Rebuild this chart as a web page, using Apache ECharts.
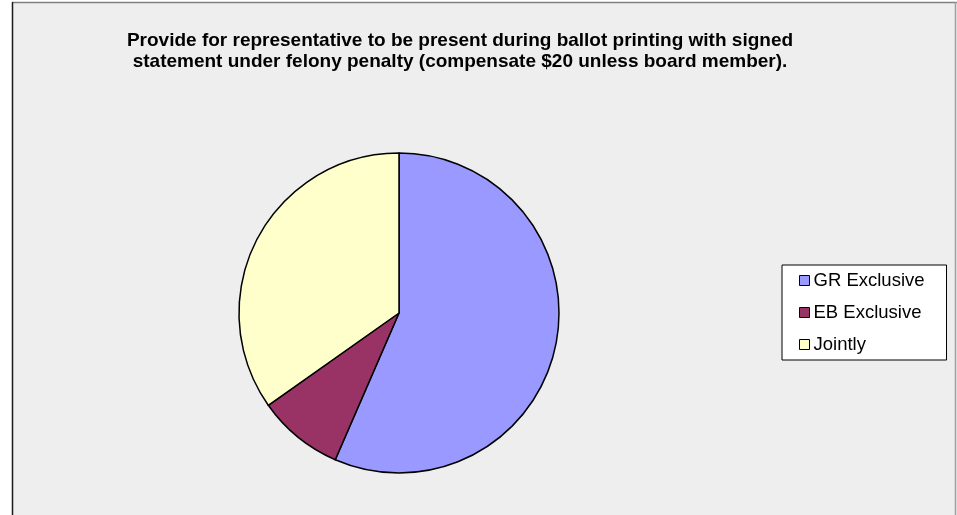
<!DOCTYPE html>
<html><head><meta charset="utf-8">
<script src="https://cdn.jsdelivr.net/npm/echarts@6/dist/echarts.min.js"></script>
<style>html,body{margin:0;padding:0;background:#fff}#c{width:957px;height:515px}</style>
</head><body><div id="c"></div>
<script>
const categories = ["GR Exclusive", "EB Exclusive", "Jointly"];
const values = [13, 2, 8];
const colors = ["#9999FF", "#993366", "#FFFFCC"];
const titleText = "Provide for representative to be present during ballot printing with signed\nstatement under felony penalty (compensate $20 unless board member).";

const chart = echarts.init(document.getElementById('c'));
chart.setOption({
  animation: false,
  graphic: [
    {type:'rect', z:-10, shape:{x:12, y:2, width:950, height:520}, style:{fill:'#eeeeee'}},
    {type:'line', z:-9, shape:{x1:12, y1:2.5, x2:957, y2:2.5}, style:{stroke:'#808080', lineWidth:1.5}},
    {type:'line', z:-9, shape:{x1:955.5, y1:2, x2:955.5, y2:515}, style:{stroke:'#a0a0a0', lineWidth:1.5}},
    {type:'line', z:-9, shape:{x1:12.5, y1:2, x2:12.5, y2:515}, style:{stroke:'#1a1a1a', lineWidth:1.5}}
  ],
  title: {
    text: titleText,
    left: 455, top: 25, textAlign: 'center',
    textStyle: {fontFamily:'Liberation Sans, Arial, sans-serif', fontSize:19, fontWeight:'bold', color:'#000', lineHeight:21}
  },
  legend: {
    orient: 'vertical',
    left: 782, top: 265,
    padding: [6, 22, 6, 17],
    itemGap: 13,
    itemWidth: 10, itemHeight: 10,
    icon: 'rect',
    backgroundColor: '#ffffff',
    borderColor: '#000000', borderWidth: 1,
    textStyle: {fontFamily:'Liberation Sans, Arial, sans-serif', fontSize:18.5, color:'#000', padding:[0,0,0,-1]},
    itemStyle: {borderColor:'#000', borderWidth:1},
    data: categories
  },
  series: [{
    type: 'pie',
    center: [399, 313],
    radius: 160,
    startAngle: 90,
    clockwise: true,
    label: {show:false},
    labelLine: {show:false},
    emphasis: {disabled:true},
    itemStyle: {borderColor:'#000', borderWidth:1.5},
    data: categories.map((n,i)=>({name:n, value:values[i], itemStyle:{color:colors[i]}}))
  }]
});
</script></body></html>
